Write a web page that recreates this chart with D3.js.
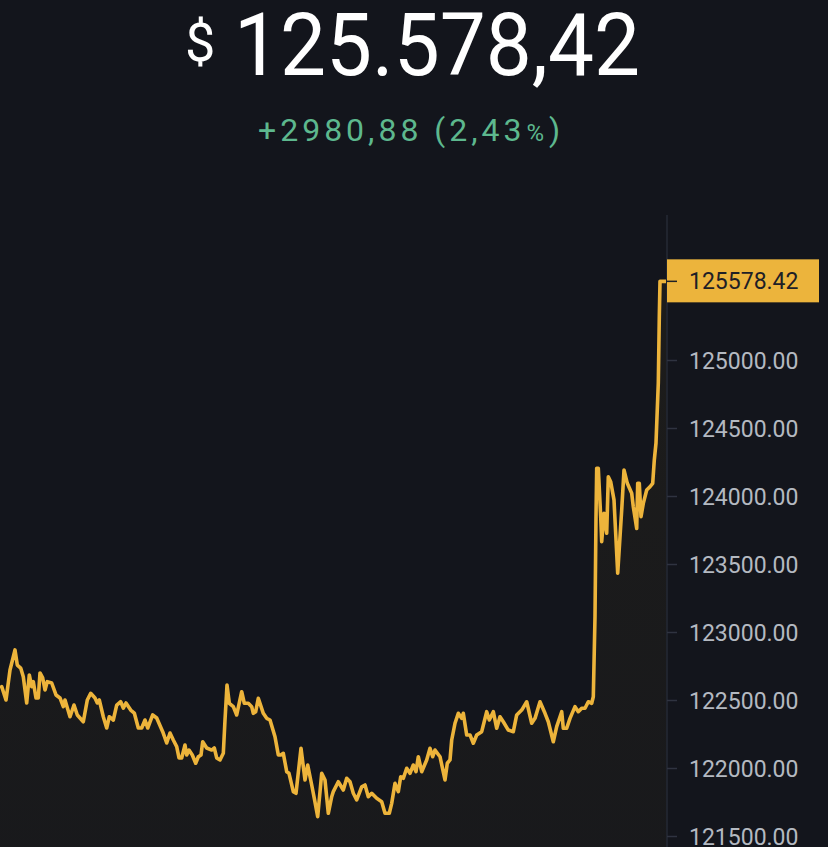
<!DOCTYPE html>
<html>
<head>
<meta charset="utf-8">
<script src="https://cdn.jsdelivr.net/npm/d3@7"></script>
<style>
html,body{margin:0;padding:0;background:#13151c;}
svg{display:block;}
</style>
</head>
<body>
<svg id="chart" width="828" height="847"></svg>
<script>
// ---- data ----
const times = [0,1.7,6,10,15,17.3,20.7,23.3,26.7,29.3,
31.7,33.3,36,38.3,40,42.7,45,47.3,51.7,56,
60,63.3,65,70,74,77.3,83.3,87.3,90.7,95,
97.3,99.3,103.3,106.7,109.3,113.3,116.7,120.7,123.3,126,
130.7,134.3,138.3,141.7,145,147.7,152.7,156.7,162.7,166.7,
170,173.3,176.7,179,181.7,185,186.7,189,192.3,195.7,
198.3,201,202.7,206.7,211.7,214.3,216.7,220,223.3,225,
227,229.3,233.3,236.7,241.7,244.3,248.3,251.7,253.3,255.7,
258.3,263.3,266.7,270,275,278.3,280.7,283.3,286.7,289,
293.3,296,301,305,307.7,311.7,314.3,317.7,321.7,325,
328.3,331.7,333.3,338.3,343.3,346.7,350,353.3,356.7,361.7,
365,368.3,371.7,376.7,381.7,385,389.3,391.7,395,398.3,
400.7,403.3,406.7,410,413.3,416,418.3,421.7,426.7,430,
432.7,435,440,445,447.3,450,451.7,455,458.3,461.7,
463.3,466.7,470,473.3,476.7,481.7,486.7,489.3,493.3,496.7,
500,503.3,508.3,513.3,516.7,521.7,526.7,531.7,535,540,
545,548.3,553.3,556.7,561.7,563.3,566.7,570,575,578.3,
581.7,585,588.3,591.7,593.3,595,596,596.7,598.3,600.7,
601.7,604,606.7,608.3,610.7,614,617.7,621.7,624,627.3,
631.7,633.3,636.7,637.7,639.3,641,643.3,646.7,650,652.7,
654.3,656,658.3,659.3,660,666];

const prices = [122588,122598,122500,122721,122868,122757,122735,122671,122478,122684,
122598,122635,122515,122515,122699,122662,122574,122635,122625,122537,
122515,122451,122500,122377,122463,122390,122340,122500,122549,122515,
122478,122500,122377,122294,122377,122353,122463,122487,122441,122478,
122426,122404,122294,122294,122353,122294,122390,122368,122267,122184,
122257,122206,122157,122074,122074,122169,122096,122132,122096,122035,
122083,122096,122193,122147,122132,122147,122074,122059,122108,122353,
122610,122476,122451,122390,122561,122476,122476,122451,122402,122414,
122513,122402,122365,122353,122230,122096,122096,122108,121973,121961,
121826,121814,122145,121912,122022,121875,121777,121642,121961,121912,
121667,121789,121826,121899,121838,121924,121899,121814,121765,121862,
121875,121789,121814,121777,121752,121667,121667,121740,121887,121826,
121936,121924,121998,121961,122022,121973,122083,121973,122059,122145,
122083,122132,122083,121912,122035,122059,122206,122329,122402,122365,
122402,122243,122243,122182,122243,122267,122414,122353,122414,122292,
122377,122340,122279,122267,122390,122426,122487,122329,122365,122487,
122402,122340,122193,122304,122414,122292,122292,122365,122451,122414,
122439,122439,122487,122476,122524,123112,123848,124204,124204,123848,
123664,123873,123726,124142,124105,123971,123432,123897,124191,124093,
124020,123921,123762,124093,124093,123848,123946,124044,124068,124093,
124265,124390,124831,125318,125578,125578.42];

const tickValues = [121500,122000,122500,123000,123500,124000,124500,125000];
const lastPrice = 125578.42;
const titleText = "125.578,42";
const currencyText = "$";
const changeText = "+2980,88 (2,43";
const pctText = "%";
const closeParen = ")";

// ---- drawing ----
const W = 828, H = 847;
const svg = d3.select("#chart");
const data = times.map((t,i)=>({t, p: prices[i]}));

const x = d3.scaleLinear().domain([0, 666]).range([0, 666]);
const y = d3.scaleLinear().domain([121500, 125000]).range([836, 360]);
const axisX = 667;

svg.append("rect").attr("width", W).attr("height", H).attr("fill", "#13151c");

const defs = svg.append("defs");
const grad = defs.append("linearGradient").attr("id","areaGrad")
  .attr("gradientUnits","userSpaceOnUse")
  .attr("x1",0).attr("y1",260).attr("x2",0).attr("y2",H);
grad.append("stop").attr("offset","0%").attr("stop-color","#f0b90b").attr("stop-opacity",0.045);
grad.append("stop").attr("offset","100%").attr("stop-color","#f0b90b").attr("stop-opacity",0.025);

const area = d3.area().x(d=>x(d.t)).y0(H).y1(d=>y(d.p));
svg.append("path").datum(data).attr("d", area).attr("fill","url(#areaGrad)");

// axis line
svg.append("line").attr("x1",axisX).attr("x2",axisX).attr("y1",215).attr("y2",H)
  .attr("stroke","#262a35").attr("stroke-width",1.5);

const axis = d3.axisRight(y).tickValues(tickValues).tickFormat(d3.format(".2f"))
  .tickSize(10).tickPadding(12);
const gA = svg.append("g").attr("transform",`translate(${axisX},0)`).call(axis);
gA.select(".domain").remove();
gA.selectAll(".tick line").attr("stroke","#2f3340").attr("stroke-width",1.5);
gA.selectAll(".tick text").attr("fill","#b4b9c1")
  .style("font-family","Roboto, 'Noto Sans', sans-serif").style("font-size","23px")
  .attr("dy","0.35em");

// line
const line = d3.line().x(d=>x(d.t)).y(d=>y(d.p));
svg.append("path").datum(data).attr("d", line).attr("fill","none")
  .attr("stroke","#edb43b").attr("stroke-width",3.6).attr("stroke-linejoin","round");

// last price label
const ly = y(lastPrice);
svg.append("rect").attr("x",axisX).attr("y",ly-22).attr("width",152).attr("height",43)
  .attr("fill","#ecb43c");
svg.append("line").attr("x1",axisX).attr("x2",axisX+10).attr("y1",ly).attr("y2",ly)
  .attr("stroke","#1e2026").attr("stroke-width",1.5);
svg.append("text").attr("x",axisX+22).attr("y",ly).attr("dy","0.35em")
  .attr("fill","#1e2026").style("font-family","Roboto, sans-serif").style("font-size","23px")
  .text(d3.format(".2f")(lastPrice));

// title
svg.append("text").attr("x",185).attr("y",61).attr("fill","#ffffff")
  .style("font-family","Roboto, sans-serif").style("font-size","54px").text(currencyText);
svg.append("text").attr("x",234).attr("y",75).attr("fill","#ffffff")
  .attr("textLength",406).attr("lengthAdjust","spacingAndGlyphs")
  .style("font-family","Roboto, sans-serif").style("font-size","87px").text(titleText);

const sub = svg.append("text").attr("x",258).attr("y",141).attr("fill","#5db88e")
  .style("font-family","Roboto, sans-serif").style("font-size","32px")
  .style("letter-spacing","4px");
sub.append("tspan").text(changeText);
sub.append("tspan").style("font-size","24px").attr("dx",1).text(pctText);
sub.append("tspan").attr("dx",1).text(closeParen);
</script>
</body>
</html>
